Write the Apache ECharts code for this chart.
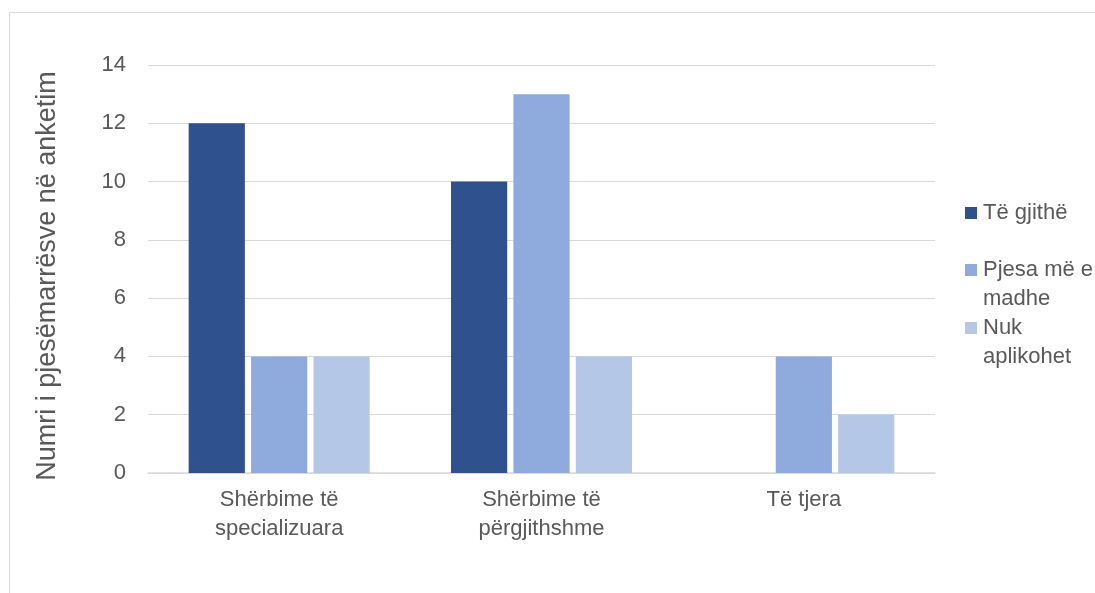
<!DOCTYPE html>
<html><head><meta charset="utf-8">
<script src="https://cdn.jsdelivr.net/npm/echarts@6/dist/echarts.min.js"></script>
<style>html,body{margin:0;padding:0;background:#fff}#c{width:1095px;height:593px}</style>
</head><body><div id="c"></div>
<script>
const categories = ["Shërbime të specializuara", "Shërbime të përgjithshme", "Të tjera"];
const seriesNames = ["Të gjithë", "Pjesa më e madhe", "Nuk aplikohet"];
const allValues = [12, 10, 0];
const mostValues = [4, 13, 4];
const naValues = [4, 4, 2];
const yTicks = [0, 2, 4, 6, 8, 10, 12, 14];
const yAxisTitle = "Numri i pjesëmarrësve në anketim";

const colors = ["#2F528F", "#8FAADC", "#B4C7E7"];
const chart = echarts.init(document.getElementById('c'), null, {renderer: 'canvas'});
const FONT = 'Liberation Sans';
const txt = {color: '#595959', fontFamily: FONT, fontSize: 22};
const LH = 29;
// word wrap without leading spaces on continuation lines
const ctx = document.createElement('canvas').getContext('2d');
ctx.font = '22px "' + FONT + '"';
function wrap(s, w) {
  const words = s.split(' '); const lines = []; let cur = '';
  for (const wd of words) {
    const t = cur ? cur + ' ' + wd : wd;
    if (cur && ctx.measureText(t).width > w) { lines.push(cur); cur = wd; } else cur = t;
  }
  if (cur) lines.push(cur);
  return lines.join('\n');
}
// square on top of a 41px-high icon box so it lines up with the first text line
const topSquare = 'path://M0,0L12,0L12,12L0,12Z M6,40.98L6.02,41L6,41Z';
const mkLegend = (name, top, icon, h) => ({
  data: [name], left: 960, top: top, orient: 'vertical', itemWidth: 12, itemHeight: h, itemGap: 0,
  icon: icon, selectedMode: false,
  formatter: n => wrap(n, 124),
  textStyle: Object.assign({}, txt, {lineHeight: LH, padding: [0,0,0,1]})
});
chart.setOption({
  animation: false,
  color: colors,
  graphic: [{type: 'rect', shape: {x: 9.5, y: 12.5, width: 1200, height: 700}, style: {fill: 'none', stroke: '#d9d9d9', lineWidth: 1}, silent: true}],
  grid: {left: 148, right: 160, top: 65, bottom: 120},
  legend: [
    mkLegend(seriesNames[0], 193.5, 'rect', 12),
    mkLegend(seriesNames[1], 250.5, topSquare, 41),
    mkLegend(seriesNames[2], 308.5, topSquare, 41)
  ],
  xAxis: {
    type: 'category', data: categories,
    axisLine: {lineStyle: {color: '#d9d9d9', width: 1.5}}, axisTick: {show: false},
    axisLabel: Object.assign({}, txt, {margin: 12, lineHeight: LH, interval: 0, formatter: v => wrap(v, 170)})
  },
  yAxis: {
    type: 'value', min: yTicks[0], max: yTicks[yTicks.length-1], interval: 2,
    name: yAxisTitle, nameLocation: 'middle', nameGap: 87,
    nameTextStyle: {color: '#595959', fontFamily: FONT, fontSize: 27, padding: [0, 14, 0, 0]},
    axisLine: {show: false}, axisTick: {show: false},
    splitLine: {lineStyle: {color: '#d9d9d9', width: 1}},
    axisLabel: Object.assign({}, txt, {margin: 22})
  },
  series: [
    {name: seriesNames[0], type: 'bar', data: allValues, barGap: '11%', barCategoryGap: '31%'},
    {name: seriesNames[1], type: 'bar', data: mostValues, barGap: '11%', barCategoryGap: '31%'},
    {name: seriesNames[2], type: 'bar', data: naValues, barGap: '11%', barCategoryGap: '31%'}
  ]
});
</script></body></html>
